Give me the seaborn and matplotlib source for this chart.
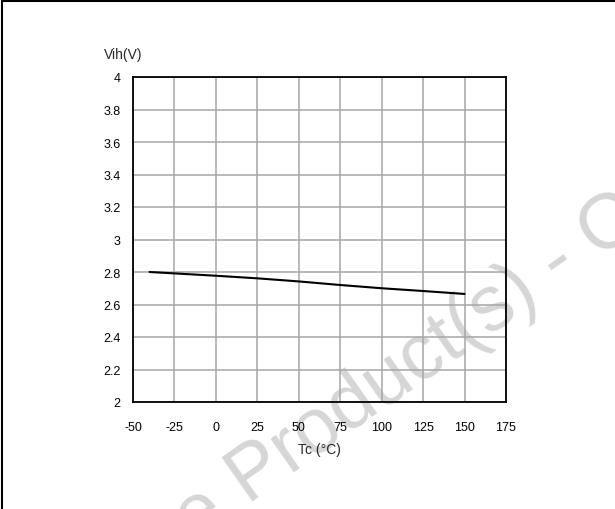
import matplotlib
matplotlib.use('Agg')
import matplotlib.pyplot as plt
import seaborn as sns
import pandas as pd
from matplotlib.lines import Line2D

# ─── Data ────────────────────────────────────────────────────────────────────
tc_c  = [-40, 0, 25, 50, 75, 100, 125, 150]
vih_v = [2.80, 2.777, 2.761, 2.742, 2.72, 2.70, 2.683, 2.665]

x_ticks = [-50, -25, 0, 25, 50, 75, 100, 125, 150, 175]
y_ticks = [2, 2.2, 2.4, 2.6, 2.8, 3, 3.2, 3.4, 3.6, 3.8, 4]
y_tick_labels = ['2', '2.2', '2.4', '2.6', '2.8', '3', '3.2', '3.4', '3.6', '3.8', '4']

df = pd.DataFrame({'Tc': tc_c, 'Vih': vih_v})

sns.set_style('white')
plt.rcParams['font.family'] = ['Liberation Sans', 'DejaVu Sans']

W, H = 615, 510
fig = plt.figure(figsize=(W / 100, H / 100), dpi=100)
ax = fig.add_axes([133 / W, 1 - 403 / H, 373 / W, 325 / H])
ax.set_facecolor('none')

# watermark behind the grid, anchored at the "P"
wm = dict(rotation=35, rotation_mode='anchor', va='baseline',
          fontsize=56, color='#d6d6d6', zorder=-1)
fig.text(248 / W, 1 - 505 / H, 'Product(s) - Obsolete Product(s)', ha='left', **wm)
fig.text(230 / W, 1 - 518 / H, 'Obsolete', ha='right', **wm)

sns.lineplot(data=df, x='Tc', y='Vih', ax=ax, color='black', linewidth=1.5, zorder=3)

ax.set_xlim(-50, 175)
ax.set_ylim(2, 4)
ax.set_xticks(x_ticks)
ax.set_xticklabels([str(t) for t in x_ticks])
ax.set_yticks(y_ticks)
ax.set_yticklabels(y_tick_labels)
ax.tick_params(length=0, labelsize=9, colors='black')
ax.tick_params(axis='x', pad=14)
ax.tick_params(axis='y', pad=9)
ax.grid(True, color='#a6a6a6', linewidth=1.1)
for s in ax.spines.values():
    s.set_color('black')
    s.set_linewidth(1.3)
    s.set_visible(True)

ax.set_xlabel('Tc (°C)', fontsize=10, labelpad=6)
ax.set_ylabel('')
fig.text(123 / W, 1 - 55 / H, 'Vih(V)', fontsize=10, ha='center', va='center')

# page frame: left and top edges only
fig.add_artist(Line2D([0.003, 0.003], [0, 0.997], transform=fig.transFigure,
                      color='black', linewidth=1.5))
fig.add_artist(Line2D([0.003, 1], [0.997, 0.997], transform=fig.transFigure,
                      color='black', linewidth=1.5))

fig.savefig('out.png', dpi=100)
